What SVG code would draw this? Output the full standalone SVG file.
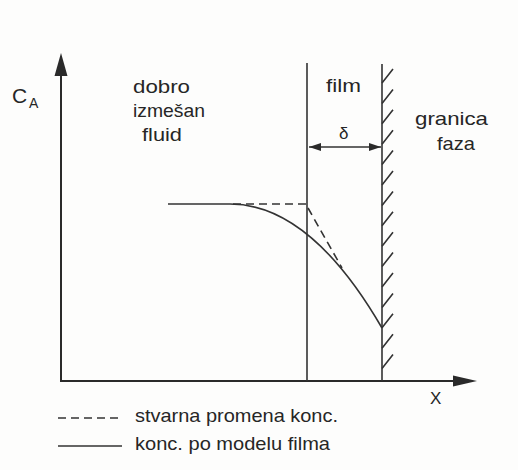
<svg xmlns="http://www.w3.org/2000/svg" width="518" height="470" viewBox="0 0 518 470">
<style>
.ln{stroke:#333;stroke-width:1.6;fill:none}
.ax{stroke:#2a2a2a;stroke-width:2;fill:none}
.ds{stroke:#333;stroke-width:1.6;fill:none;stroke-dasharray:8 5}
.tx{font-family:"Liberation Sans",Arial,sans-serif;fill:#262626}
.ah{fill:#2a2a2a}
</style>
<defs>
<marker id="sm" viewBox="0 0 12 8" refX="12" refY="4" markerWidth="12" markerHeight="8" markerUnits="userSpaceOnUse" orient="auto-start-reverse">
<path d="M0,0 L12,4 L0,8 Z" class="ah"/>
</marker>
</defs>
<rect width="518" height="470" fill="#fdfdfc"/>
<g id="axes">
<line class="ax" x1="61" y1="72" x2="61" y2="381"/>
<path class="ah" d="M61,53 L67.5,76 L54.5,76 Z"/>
<line class="ax" x1="60" y1="381" x2="456" y2="381"/>
<path class="ah" d="M477,381 L453,375.5 L453,386.5 Z"/>
<text class="tx" x="12" y="103" font-size="21">C</text>
<text class="tx" x="29" y="108" font-size="14">A</text>
<text class="tx" x="430" y="404" font-size="17">X</text>
</g>
<g id="film">
<line class="ln" x1="307" y1="63" x2="307" y2="381"/>
<text class="tx" x="326" y="92" font-size="19" textLength="35" lengthAdjust="spacingAndGlyphs">film</text>
</g>
<g id="interface">
<line class="ln" x1="382" y1="64" x2="382" y2="381"/>
<g class="ln" stroke-width="1.4">
<path d="M382,83 l11,-14 M382,103.4 l11,-14 M382,123.8 l11,-14 M382,144.2 l11,-14 M382,164.6 l11,-14 M382,185 l11,-14 M382,205.4 l11,-14 M382,225.8 l11,-14 M382,246.2 l11,-14 M382,266.6 l11,-14 M382,287 l11,-14 M382,307.4 l11,-14 M382,327.8 l11,-14 M382,348.2 l11,-14 M382,368.6 l11,-14"/>
</g>
<text class="tx" x="415" y="125" font-size="19" textLength="73" lengthAdjust="spacingAndGlyphs">granica</text>
<text class="tx" x="437" y="150" font-size="19" textLength="38" lengthAdjust="spacingAndGlyphs">faza</text>
</g>
<g id="bulk">
<text class="tx" x="133" y="93" font-size="19" textLength="57" lengthAdjust="spacingAndGlyphs">dobro</text>
<text class="tx" x="133" y="117" font-size="19" textLength="72" lengthAdjust="spacingAndGlyphs">izmešan</text>
<text class="tx" x="142" y="141" font-size="19" textLength="40" lengthAdjust="spacingAndGlyphs">fluid</text>
</g>
<g id="connectors">
<line class="ln" x1="309" y1="147" x2="381" y2="147" marker-start="url(#sm)" marker-end="url(#sm)"/>
<text class="tx" x="339" y="139" font-size="17">δ</text>
<path class="ln" d="M168,204 L230,204 Q310,204 382,328"/>
<path class="ds" d="M233,204 L307,204"/>
<path class="ds" d="M308,208 L342,268"/>
</g>
<g id="legend">
<line class="ds" x1="58" y1="418" x2="123" y2="418"/>
<text class="tx" x="135" y="422" font-size="18.5" textLength="203" lengthAdjust="spacingAndGlyphs">stvarna promena konc.</text>
<line class="ln" x1="58" y1="446" x2="122" y2="446"/>
<text class="tx" x="135" y="450" font-size="18.5" textLength="195" lengthAdjust="spacingAndGlyphs">konc. po modelu filma</text>
</g>
</svg>
